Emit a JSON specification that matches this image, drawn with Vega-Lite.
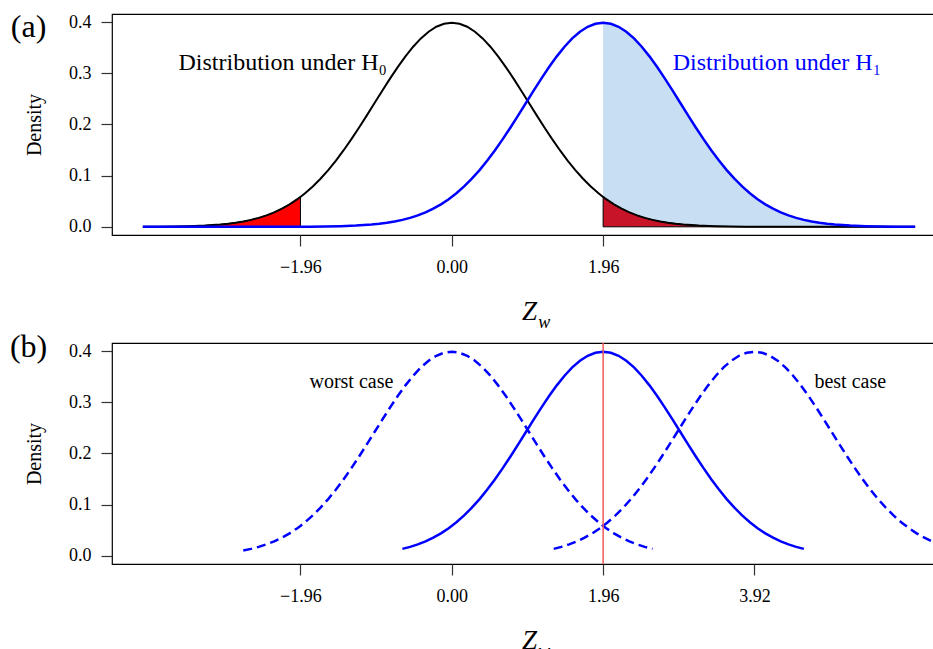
{
  "$schema": "https://vega.github.io/schema/vega-lite/v6.json",
  "padding": {"left": 9, "top": 10, "right": 0, "bottom": 0},
  "spacing": -3,
  "config": {
    "font": "Liberation Serif",
    "view": {"stroke": "black", "strokeWidth": 1.2},
    "axis": {
      "domain": false, "grid": false, "tickColor": "#333", "tickWidth": 1.2, "tickSize": 11,
      "labelFont": "Liberation Serif", "labelFontSize": 18, "labelColor": "black",
      "titleFont": "Liberation Serif", "titleFontWeight": "normal", "titleColor": "black"
    },
    "text": {"font": "Liberation Serif"}
  },
  "datasets": {
    "h0": [{"x":-4,"y":0.00013},{"x":-3.8,"y":0.00029},{"x":-3.6,"y":0.00061},{"x":-3.4,"y":0.00123},{"x":-3.2,"y":0.00238},{"x":-3,"y":0.00443},{"x":-2.9,"y":0.00595},{"x":-2.8,"y":0.00792},{"x":-2.7,"y":0.01042},{"x":-2.6,"y":0.01358},{"x":-2.5,"y":0.01753},{"x":-2.4,"y":0.02239},{"x":-2.3,"y":0.02833},{"x":-2.2,"y":0.03547},{"x":-2.1,"y":0.04398},{"x":-2,"y":0.05399},{"x":-1.96,"y":0.05844},{"x":-1.9,"y":0.06562},{"x":-1.8,"y":0.07895},{"x":-1.7,"y":0.09405},{"x":-1.6,"y":0.11092},{"x":-1.5,"y":0.12952},{"x":-1.4,"y":0.14973},{"x":-1.3,"y":0.17137},{"x":-1.2,"y":0.19419},{"x":-1.1,"y":0.21785},{"x":-1,"y":0.24197},{"x":-0.9,"y":0.26609},{"x":-0.8,"y":0.28969},{"x":-0.7,"y":0.31225},{"x":-0.6,"y":0.33322},{"x":-0.5,"y":0.35207},{"x":-0.4,"y":0.36827},{"x":-0.3,"y":0.38139},{"x":-0.2,"y":0.39104},{"x":-0.1,"y":0.39695},{"x":0,"y":0.39894},{"x":0.1,"y":0.39695},{"x":0.2,"y":0.39104},{"x":0.3,"y":0.38139},{"x":0.4,"y":0.36827},{"x":0.5,"y":0.35207},{"x":0.6,"y":0.33322},{"x":0.7,"y":0.31225},{"x":0.8,"y":0.28969},{"x":0.9,"y":0.26609},{"x":1,"y":0.24197},{"x":1.1,"y":0.21785},{"x":1.2,"y":0.19419},{"x":1.3,"y":0.17137},{"x":1.4,"y":0.14973},{"x":1.5,"y":0.12952},{"x":1.6,"y":0.11092},{"x":1.7,"y":0.09405},{"x":1.8,"y":0.07895},{"x":1.9,"y":0.06562},{"x":1.96,"y":0.05844},{"x":2,"y":0.05399},{"x":2.1,"y":0.04398},{"x":2.2,"y":0.03547},{"x":2.3,"y":0.02833},{"x":2.4,"y":0.02239},{"x":2.5,"y":0.01753},{"x":2.6,"y":0.01358},{"x":2.7,"y":0.01042},{"x":2.8,"y":0.00792},{"x":2.9,"y":0.00595},{"x":3,"y":0.00443},{"x":3.2,"y":0.00238},{"x":3.4,"y":0.00123},{"x":3.6,"y":0.00061},{"x":3.8,"y":0.00029},{"x":4,"y":0.00013},{"x":4.5,"y":0.00002},{"x":5,"y":0},{"x":6,"y":0}],
    "h1": [{"x":-4,"y":0},{"x":-3.04,"y":0},{"x":-2.54,"y":0.00002},{"x":-2.04,"y":0.00013},{"x":-1.84,"y":0.00029},{"x":-1.64,"y":0.00061},{"x":-1.44,"y":0.00123},{"x":-1.24,"y":0.00238},{"x":-1.04,"y":0.00443},{"x":-0.94,"y":0.00595},{"x":-0.84,"y":0.00792},{"x":-0.74,"y":0.01042},{"x":-0.64,"y":0.01358},{"x":-0.54,"y":0.01753},{"x":-0.44,"y":0.02239},{"x":-0.34,"y":0.02833},{"x":-0.24,"y":0.03547},{"x":-0.14,"y":0.04398},{"x":-0.04,"y":0.05399},{"x":0.06,"y":0.06562},{"x":0.16,"y":0.07895},{"x":0.26,"y":0.09405},{"x":0.36,"y":0.11092},{"x":0.46,"y":0.12952},{"x":0.56,"y":0.14973},{"x":0.66,"y":0.17137},{"x":0.76,"y":0.19419},{"x":0.86,"y":0.21785},{"x":0.96,"y":0.24197},{"x":1.06,"y":0.26609},{"x":1.16,"y":0.28969},{"x":1.26,"y":0.31225},{"x":1.36,"y":0.33322},{"x":1.46,"y":0.35207},{"x":1.56,"y":0.36827},{"x":1.66,"y":0.38139},{"x":1.76,"y":0.39104},{"x":1.86,"y":0.39695},{"x":1.96,"y":0.39894},{"x":2.06,"y":0.39695},{"x":2.16,"y":0.39104},{"x":2.26,"y":0.38139},{"x":2.36,"y":0.36827},{"x":2.46,"y":0.35207},{"x":2.56,"y":0.33322},{"x":2.66,"y":0.31225},{"x":2.76,"y":0.28969},{"x":2.86,"y":0.26609},{"x":2.96,"y":0.24197},{"x":3.06,"y":0.21785},{"x":3.16,"y":0.19419},{"x":3.26,"y":0.17137},{"x":3.36,"y":0.14973},{"x":3.46,"y":0.12952},{"x":3.56,"y":0.11092},{"x":3.66,"y":0.09405},{"x":3.76,"y":0.07895},{"x":3.86,"y":0.06562},{"x":3.96,"y":0.05399},{"x":4.06,"y":0.04398},{"x":4.16,"y":0.03547},{"x":4.26,"y":0.02833},{"x":4.36,"y":0.02239},{"x":4.46,"y":0.01753},{"x":4.56,"y":0.01358},{"x":4.66,"y":0.01042},{"x":4.76,"y":0.00792},{"x":4.86,"y":0.00595},{"x":4.96,"y":0.00443},{"x":5.16,"y":0.00238},{"x":5.36,"y":0.00123},{"x":5.56,"y":0.00061},{"x":5.76,"y":0.00029},{"x":6,"y":0.00011}],
    "best": [{"x":1.32,"y":0.01358},{"x":1.42,"y":0.01753},{"x":1.52,"y":0.02239},{"x":1.62,"y":0.02833},{"x":1.72,"y":0.03547},{"x":1.82,"y":0.04398},{"x":1.92,"y":0.05399},{"x":2.02,"y":0.06562},{"x":2.12,"y":0.07895},{"x":2.22,"y":0.09405},{"x":2.32,"y":0.11092},{"x":2.42,"y":0.12952},{"x":2.52,"y":0.14973},{"x":2.62,"y":0.17137},{"x":2.72,"y":0.19419},{"x":2.82,"y":0.21785},{"x":2.92,"y":0.24197},{"x":3.02,"y":0.26609},{"x":3.12,"y":0.28969},{"x":3.22,"y":0.31225},{"x":3.32,"y":0.33322},{"x":3.42,"y":0.35207},{"x":3.52,"y":0.36827},{"x":3.62,"y":0.38139},{"x":3.72,"y":0.39104},{"x":3.82,"y":0.39695},{"x":3.92,"y":0.39894},{"x":4.02,"y":0.39695},{"x":4.12,"y":0.39104},{"x":4.22,"y":0.38139},{"x":4.32,"y":0.36827},{"x":4.42,"y":0.35207},{"x":4.52,"y":0.33322},{"x":4.62,"y":0.31225},{"x":4.72,"y":0.28969},{"x":4.82,"y":0.26609},{"x":4.92,"y":0.24197},{"x":5.02,"y":0.21785},{"x":5.12,"y":0.19419},{"x":5.22,"y":0.17137},{"x":5.32,"y":0.14973},{"x":5.42,"y":0.12952},{"x":5.52,"y":0.11092},{"x":5.62,"y":0.09405},{"x":5.72,"y":0.07895},{"x":5.82,"y":0.06562},{"x":5.92,"y":0.05399},{"x":6.02,"y":0.04398},{"x":6.12,"y":0.03547},{"x":6.22,"y":0.02833},{"x":6.32,"y":0.02239},{"x":6.42,"y":0.01753},{"x":6.52,"y":0.01358}]
  },
  "vconcat": [
    {
      "width": 834, "height": 221,
      "layer": [
        {"data": {"name": "h1"}, "transform": [{"filter": "datum.x >= 1.96"}],
         "mark": {"type": "area", "color": "#C8DEF2"},
         "encoding": {
           "x": {"field": "x", "type": "quantitative", "scale": {"domain": [-4.4, 6.4], "nice": false, "zero": false},
                 "axis": {"values": [-1.96, 0, 1.96], "format": ".2f", "labelPadding": 12, "title": "Z", "titleFontSize": 27, "titleFontStyle": "italic", "titlePadding": 22}},
           "y": {"field": "y", "type": "quantitative", "scale": {"domain": [-0.016, 0.416], "nice": false, "zero": false},
                 "axis": {"values": [0, 0.1, 0.2, 0.3, 0.4], "format": ".1f", "labelPadding": 10, "title": "Density", "titleFontSize": 20, "titlePadding": 24}},
           "y2": {"datum": 0}}},
        {"data": {"name": "h0"}, "transform": [{"filter": "datum.x <= -1.96"}],
         "mark": {"type": "area", "color": "#FF0000", "stroke": "black", "strokeWidth": 1},
         "encoding": {"x": {"field": "x", "type": "quantitative"}, "y": {"field": "y", "type": "quantitative"}, "y2": {"datum": 0}}},
        {"data": {"name": "h0"}, "transform": [{"filter": "datum.x >= 1.96"}],
         "mark": {"type": "area", "color": "#C81428", "stroke": "black", "strokeWidth": 1},
         "encoding": {"x": {"field": "x", "type": "quantitative"}, "y": {"field": "y", "type": "quantitative"}, "y2": {"datum": 0}}},
        {"data": {"name": "h0"}, "mark": {"type": "line", "color": "black", "strokeWidth": 2},
         "encoding": {"x": {"field": "x", "type": "quantitative"}, "y": {"field": "y", "type": "quantitative"}}},
        {"data": {"name": "h1"}, "mark": {"type": "line", "color": "#0000FF", "strokeWidth": 2.5},
         "encoding": {"x": {"field": "x", "type": "quantitative"}, "y": {"field": "y", "type": "quantitative"}}},
        {"data": {"values": [{"t": "Distribution under H₀"}]}, "mark": {"type": "text", "fontSize": 24, "color": "black", "align": "center", "baseline": "middle"},
         "encoding": {"x": {"datum": -2.19}, "y": {"datum": 0.32}, "text": {"field": "t"}}},
        {"data": {"values": [{"t": "Distribution under H₁"}]}, "mark": {"type": "text", "fontSize": 24, "color": "#0000FF", "align": "center", "baseline": "middle"},
         "encoding": {"x": {"datum": 4.21}, "y": {"datum": 0.32}, "text": {"field": "t"}}},
        {"data": {"values": [{"t": "(a)"}]}, "mark": {"type": "text", "fontSize": 32, "color": "black", "align": "center", "baseline": "middle"},
         "encoding": {"x": {"datum": -5.48}, "y": {"datum": 0.391}, "text": {"field": "t"}}},
        {"data": {"values": [{"t": "w"}]}, "mark": {"type": "text", "fontSize": 18, "fontStyle": "italic", "color": "black", "align": "left", "baseline": "alphabetic"},
         "encoding": {"x": {"datum": 1.12}, "y": {"datum": -0.197}, "text": {"field": "t"}}}
      ]
    },
    {
      "width": 834, "height": 221,
      "layer": [
        {"data": {"name": "h0"}, "transform": [{"filter": "datum.x >= -2.7 && datum.x <= 2.6"}],
         "mark": {"type": "line", "color": "#0000FF", "strokeWidth": 2.5, "strokeDash": [9, 5], "clip": true},
         "encoding": {
           "x": {"field": "x", "type": "quantitative", "scale": {"domain": [-4.4, 6.4], "nice": false, "zero": false},
                 "axis": {"values": [-1.96, 0, 1.96, 3.92], "format": ".2f", "labelPadding": 12, "title": "Z", "titleFontSize": 27, "titleFontStyle": "italic", "titlePadding": 22}},
           "y": {"field": "y", "type": "quantitative", "scale": {"domain": [-0.016, 0.416], "nice": false, "zero": false},
                 "axis": {"values": [0, 0.1, 0.2, 0.3, 0.4], "format": ".1f", "labelPadding": 10, "title": "Density", "titleFontSize": 20, "titlePadding": 24}}}},
        {"data": {"name": "h1"}, "transform": [{"filter": "datum.x >= -0.65 && datum.x <= 4.57"}],
         "mark": {"type": "line", "color": "#0000FF", "strokeWidth": 2.5, "clip": true},
         "encoding": {"x": {"field": "x", "type": "quantitative"}, "y": {"field": "y", "type": "quantitative"}}},
        {"data": {"name": "best"},
         "mark": {"type": "line", "color": "#0000FF", "strokeWidth": 2.5, "strokeDash": [9, 5], "clip": true},
         "encoding": {"x": {"field": "x", "type": "quantitative"}, "y": {"field": "y", "type": "quantitative"}}},
        {"data": {"values": [{"x": 1.96}]}, "mark": {"type": "rule", "color": "#F25A5A", "strokeWidth": 1.5},
         "encoding": {"x": {"field": "x", "type": "quantitative"}}},
        {"data": {"values": [{"t": "worst case"}]}, "mark": {"type": "text", "fontSize": 20, "color": "black", "align": "center", "baseline": "middle"},
         "encoding": {"x": {"datum": -1.3}, "y": {"datum": 0.34}, "text": {"field": "t"}}},
        {"data": {"values": [{"t": "best case"}]}, "mark": {"type": "text", "fontSize": 20, "color": "black", "align": "center", "baseline": "middle"},
         "encoding": {"x": {"datum": 5.16}, "y": {"datum": 0.34}, "text": {"field": "t"}}},
        {"data": {"values": [{"t": "(b)"}]}, "mark": {"type": "text", "fontSize": 32, "color": "black", "align": "center", "baseline": "middle"},
         "encoding": {"x": {"datum": -5.48}, "y": {"datum": 0.408}, "text": {"field": "t"}}},
        {"data": {"values": [{"t": "w"}]}, "mark": {"type": "text", "fontSize": 18, "fontStyle": "italic", "color": "black", "align": "left", "baseline": "alphabetic"},
         "encoding": {"x": {"datum": 1.12}, "y": {"datum": -0.197}, "text": {"field": "t"}}}
      ]
    }
  ]
}
